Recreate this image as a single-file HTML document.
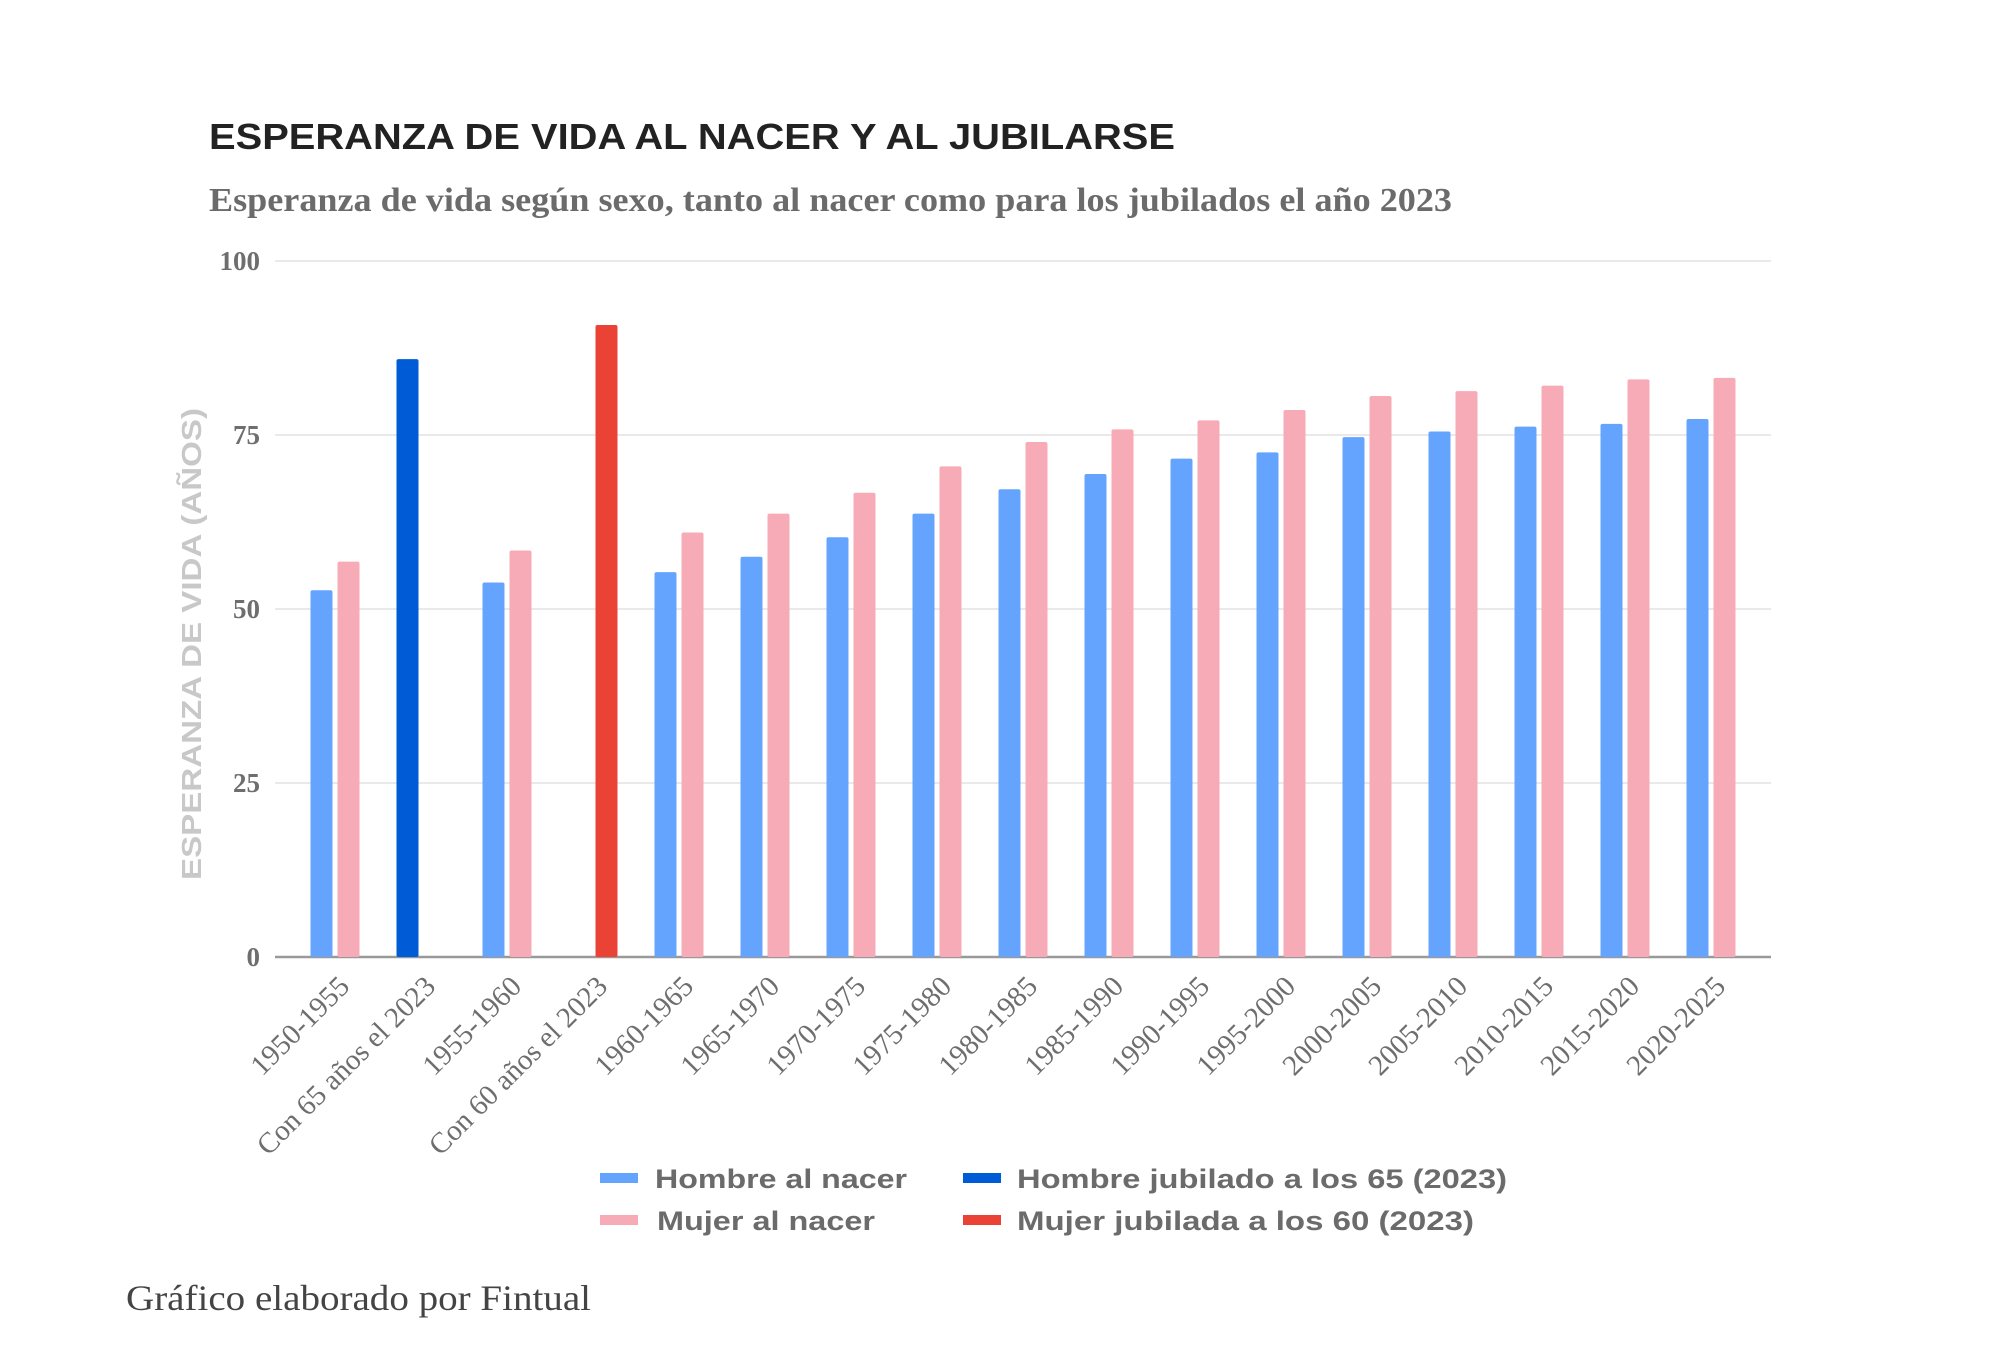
<!DOCTYPE html>
<html><head><meta charset="utf-8"><style>
html,body{margin:0;padding:0;background:#fff;}
svg{display:block;}
</style></head><body>
<svg id="chart" width="2000" height="1350" viewBox="0 0 2000 1350" xmlns="http://www.w3.org/2000/svg">
<rect width="2000" height="1350" fill="#fff"/>
<text x="209" y="149" font-family="Liberation Sans, sans-serif" font-weight="bold" font-size="36" fill="#222" textLength="966" lengthAdjust="spacingAndGlyphs">ESPERANZA DE VIDA AL NACER Y AL JUBILARSE</text>
<text x="209" y="211" font-family="Liberation Serif, serif" font-weight="bold" font-size="34" fill="#6b6b6b" textLength="1243" lengthAdjust="spacingAndGlyphs">Esperanza de vida según sexo, tanto al nacer como para los jubilados el año 2023</text>
<g id="grid"></g>
<g id="bars"></g>
<g id="xlabels"></g>
<text transform="translate(201,644) rotate(-90)" text-anchor="middle" font-family="Liberation Sans, sans-serif" font-weight="bold" font-size="28" fill="#c8c8c8" textLength="472" lengthAdjust="spacingAndGlyphs">ESPERANZA DE VIDA (AÑOS)</text>
<g font-family="Liberation Sans, sans-serif" font-weight="bold" font-size="27" fill="#6b6b6b">
<rect x="600" y="1173" width="38" height="10" fill="#64a4ff"/>
<text x="655" y="1188" textLength="252" lengthAdjust="spacingAndGlyphs">Hombre al nacer</text>
<rect x="600" y="1215" width="38" height="10" fill="#f7abb6"/>
<text x="657" y="1230" textLength="218" lengthAdjust="spacingAndGlyphs">Mujer al nacer</text>
<rect x="963" y="1173" width="38" height="10" fill="#005bd6"/>
<text x="1017" y="1188" textLength="490" lengthAdjust="spacingAndGlyphs">Hombre jubilado a los 65 (2023)</text>
<rect x="963" y="1215" width="38" height="10" fill="#ea4335"/>
<text x="1017" y="1230" textLength="457" lengthAdjust="spacingAndGlyphs">Mujer jubilada a los 60 (2023)</text>
</g>
<text x="126" y="1310" font-family="Liberation Serif, serif" font-size="36" fill="#444" textLength="465" lengthAdjust="spacingAndGlyphs">Gráfico elaborado por Fintual</text>
</svg>
<script>
const categories = ["1950-1955","Con 65 años el 2023","1955-1960","Con 60 años el 2023","1960-1965","1965-1970","1970-1975","1975-1980","1980-1985","1985-1990","1990-1995","1995-2000","2000-2005","2005-2010","2010-2015","2015-2020","2020-2025"];
const hombreNacer = [52.7,null,53.8,null,55.3,57.5,60.3,63.7,67.2,69.4,71.6,72.5,74.7,75.5,76.2,76.6,77.3];
const mujerNacer = [56.8,null,58.4,null,61.0,63.7,66.7,70.5,74.0,75.8,77.1,78.6,80.6,81.3,82.1,83.0,83.2];
const hombreJubilado = [null,85.9,null,null,null,null,null,null,null,null,null,null,null,null,null,null,null];
const mujerJubilada = [null,null,null,90.8,null,null,null,null,null,null,null,null,null,null,null,null,null];
const yTicks = [0,25,50,75,100];

const NS = "http://www.w3.org/2000/svg";
const plotL = 275, plotR = 1771, y0px = 957, y100px = 261;
const pad = 60;
const step = (plotR - plotL - 2*pad) / (categories.length - 1);
function yScale(v){ return y0px - (v/100)*(y0px - y100px); }
function xCenter(i){ return plotL + pad + step*i; }
function mk(tag, attrs, parent){ const e=document.createElementNS(NS,tag); for(const k in attrs) e.setAttribute(k,attrs[k]); parent.appendChild(e); return e; }

const grid = document.getElementById('grid');
yTicks.forEach(t=>{
  const y=yScale(t);
  const ln = mk('line',{x1:plotL,x2:plotR,y1:y,y2:y,stroke:t===0?'#999':'#e2e2e2','stroke-width':t===0?2.5:1.5},grid);
  
  
  const tx = mk('text',{x:260,y:y+9,'text-anchor':'end','font-family':'Liberation Serif, serif','font-weight':'bold','font-size':'27',fill:'#6e6e6e'},grid);
  tx.textContent = t;
  
  
});

const bars = document.getElementById('bars');
const bw = 22, gap = 5;
function bar(i, v, slot, color, name){
  if(v===null) return;
  const cx = xCenter(i);
  const x = cx - bw - gap/2 + slot*(bw+gap);
  const y = yScale(v);
  const r = mk('rect',{x:x,y:y,width:bw,height:y0px-y,rx:2,fill:color},bars);
  
  
}
categories.forEach((c,i)=>{
  bar(i, hombreNacer[i], 0, '#64a4ff', 'bar-hombre-nacer');
  bar(i, mujerNacer[i], 1, '#f7abb6', 'bar-mujer-nacer');
  bar(i, hombreJubilado[i], 0, '#005bd6', 'bar-hombre-jubilado');
  bar(i, mujerJubilada[i], 1, '#ea4335', 'bar-mujer-jubilada');
});

const xl = document.getElementById('xlabels');
categories.forEach((c,i)=>{
  const x = xCenter(i)+16, y = 988;
  const t = mk('text',{x:x,y:y,'text-anchor':'end',transform:`rotate(-45 ${x} ${y})`,'font-family':'Liberation Serif, serif','font-size':'29',fill:'#6e6e6e'},xl);
  t.textContent = c;
  
  
});
</script>
</body></html>
